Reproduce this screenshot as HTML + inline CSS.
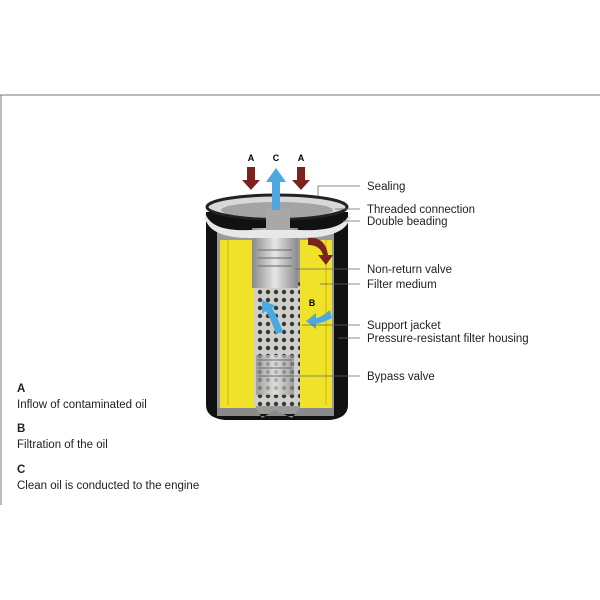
<!DOCTYPE html>
<html><head><style>
body{margin:0;background:#fff;}
svg{display:block;font-family:"Liberation Sans",sans-serif;}
</style></head><body>
<svg width="600" height="600" viewBox="0 0 600 600">
<defs>
<pattern id="holes" width="8" height="8" patternUnits="userSpaceOnUse">
<rect width="8" height="8" fill="#cfcfcf"/><circle cx="4" cy="4" r="2.2" fill="#3a3a28"/>
</pattern>
<linearGradient id="tube" x1="0" x2="1"><stop offset="0" stop-color="#8a8a8a"/><stop offset="0.5" stop-color="#e6e6e6"/><stop offset="1" stop-color="#8a8a8a"/></linearGradient>
</defs>
<line x1="0" y1="95" x2="600" y2="95" stroke="#777" stroke-width="1"/>
<line x1="1" y1="95" x2="1" y2="505" stroke="#777" stroke-width="1"/>
<!-- body -->
<path d="M206 212 L206 405 Q206 418 225 420 L330 420 Q348 418 348 405 L348 212 Z" fill="#111"/>
<rect x="217" y="232" width="117" height="182" fill="#9a9a9a"/>
<rect x="220" y="240" width="36" height="168" fill="#f0e22a"/>
<rect x="300" y="240" width="32" height="168" fill="#f0e22a"/>
<line x1="228" y1="240" x2="228" y2="405" stroke="#c8b800"/>
<line x1="326" y1="240" x2="326" y2="405" stroke="#c8b800"/>
<path d="M217 408 L256 408 L262 418 L275 410 L292 418 L300 408 L334 408 L334 416 L217 416 Z" fill="#8a8a8a"/>
<rect x="254" y="282" width="46" height="124" fill="url(#holes)"/>
<rect x="252" y="228" width="46" height="60" fill="url(#tube)"/>
<rect x="256" y="355" width="38" height="40" fill="url(#tube)" opacity="0.7"/>
<g stroke="#666" fill="none"><path d="M258 250 h34 M258 258 h34 M258 266 h34 M258 360 h34 M258 368 h34 M258 376 h34"/></g>
<!-- top -->
<path d="M205 212 Q210 232 250 230 L300 230 Q345 232 350 212 L350 218 Q345 238 300 238 L250 238 Q210 238 205 218 Z" fill="#e8e8e8"/>
<ellipse cx="277" cy="207" rx="70" ry="12" fill="#d8d8d8" stroke="#222" stroke-width="3"/>
<ellipse cx="277" cy="210" rx="56" ry="8" fill="#a4a4a4"/>
<rect x="266" y="208" width="24" height="22" fill="#a8a8a8"/>
<!-- arrows -->
<text x="251" y="161" font-size="9" font-weight="bold" text-anchor="middle">A</text>
<text x="276" y="161" font-size="9" font-weight="bold" text-anchor="middle">C</text>
<text x="301" y="161" font-size="9" font-weight="bold" text-anchor="middle">A</text>
<path d="M247 167 h8 v13 h5 l-9 10 l-9 -10 h5 Z" fill="#7a2420"/>
<path d="M297 167 h8 v13 h5 l-9 10 l-9 -10 h5 Z" fill="#7a2420"/>
<path d="M272 210 v-28 h-6 l10 -14 l10 14 h-6 v28 Z" fill="#4ea8e0"/>
<path d="M308 238 Q325 236 328 255 l5 0 l-7 10 l-8 -10 l5 0 Q320 245 308 245 Z" fill="#7a2420"/>
<path d="M330 310 Q320 318 316 318 l0 -5 l-10 8 l10 8 l0 -5 Q325 322 332 318 Z" fill="#4ea8e0"/>
<path d="M283 332 Q278 318 272 308 l4 -2 l-14 -6 l0 14 l4 -3 Q272 322 276 334 Z" fill="#4ea8e0"/>
<text x="312" y="306" font-size="9" font-weight="bold" text-anchor="middle">B</text>
<!-- leaders -->
<g stroke="#666" stroke-width="0.8" fill="none">
<path d="M318 196 V186 H360"/>
<path d="M335 209 H360"/>
<path d="M343 221 H360"/>
<path d="M295 269 H360"/>
<path d="M320 284 H360"/>
<path d="M302 325 H360"/>
<path d="M338 338 H360"/>
<path d="M290 376 H360"/>
</g>
<g font-size="11.5" fill="#222">
<text x="367" y="190">Sealing</text>
<text x="367" y="213">Threaded connection</text>
<text x="367" y="225">Double beading</text>
<text x="367" y="273">Non-return valve</text>
<text x="367" y="288">Filter medium</text>
<text x="367" y="329">Support jacket</text>
<text x="367" y="342">Pressure-resistant filter housing</text>
<text x="367" y="380">Bypass valve</text>
</g>
<g font-size="11.5" fill="#222">
<text x="17" y="392" font-weight="bold">A</text>
<text x="17" y="408">Inflow of contaminated oil</text>
<text x="17" y="432" font-weight="bold">B</text>
<text x="17" y="448">Filtration of the oil</text>
<text x="17" y="473" font-weight="bold">C</text>
<text x="17" y="489">Clean oil is conducted to the engine</text>
</g>
</svg>
</body></html>
